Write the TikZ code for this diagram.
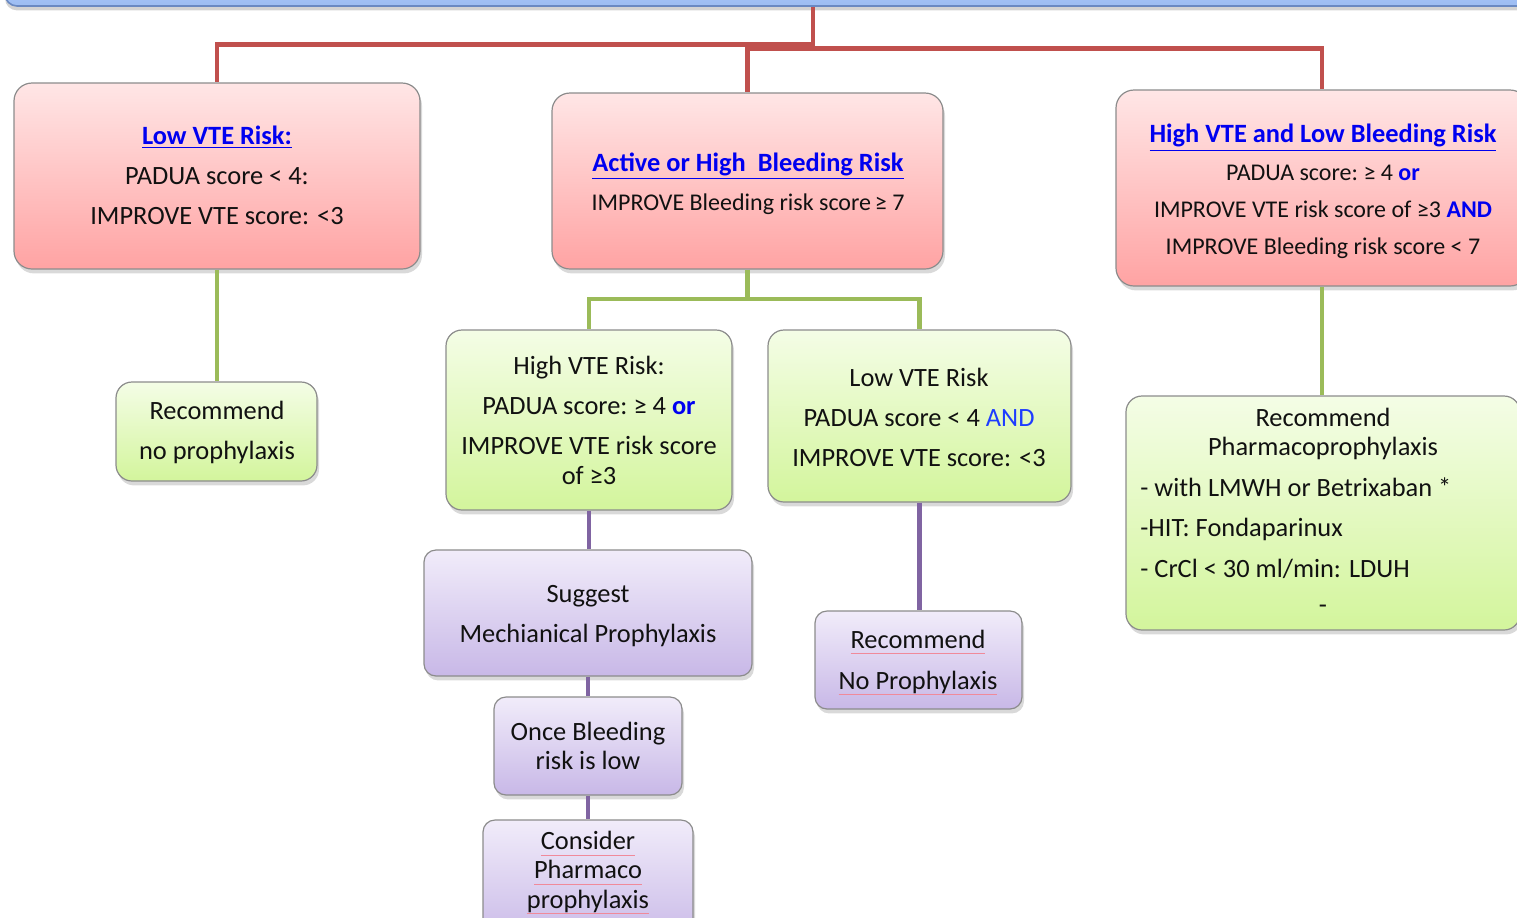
\documentclass[tikz,border=0pt]{standalone}
\usepackage{fontspec}
\setmainfont{Carlito}
\usetikzlibrary{shadows,fit}
\definecolor{redln}{HTML}{C0504D}
\definecolor{greenln}{HTML}{9BBB59}
\definecolor{purpleln}{HTML}{8064A2}
\definecolor{redtop}{HTML}{FFE6E6}
\definecolor{redbot}{HTML}{FFA3A3}
\definecolor{greentop}{HTML}{F4FDE6}
\definecolor{greenbot}{HTML}{D3F59C}
\definecolor{purtop}{HTML}{F1ECFA}
\definecolor{purbot}{HTML}{C8B8E7}
\definecolor{bluetop}{HTML}{B3CDF8}
\definecolor{bluebot}{HTML}{9DBDF3}
\definecolor{bluebd}{HTML}{6A89C2}
\definecolor{tblue}{HTML}{0000F0}
\definecolor{lblue}{HTML}{1E3CFF}
\definecolor{txtc}{HTML}{111111}
\definecolor{splc}{HTML}{F08A9A}
\newcommand\spl[1]{\setbox0\hbox{#1}\rlap{\textcolor{splc}{\rule[-0.45ex]{\wd0}{0.4pt}}}\box0}
\newcommand\ttl[1]{{\color{tblue}\bfseries\underline{#1}}}
\newcommand\gsym{\kern-0.07em≥}
\newcommand\sm{\fontsize{12}{14.6}\selectfont}
\tikzset{
  boxbase/.style={draw=black!45, line width=0.6pt, inner sep=0pt,
    drop shadow={shadow xshift=1pt, shadow yshift=-2.2pt, opacity=0.3}},
  redbox/.style={boxbase, rounded corners=9pt, top color=redtop, bottom color=redbot},
  greenbox/.style={boxbase, rounded corners=8pt, top color=greentop, bottom color=greenbot},
  purbox/.style={boxbase, rounded corners=6pt, top color=purtop, bottom color=purbot},
  bluebar/.style={draw=bluebd, line width=0.8pt, inner sep=0pt, rounded corners=6pt,
    top color=bluetop, bottom color=bluebot,
    drop shadow={shadow xshift=0pt, shadow yshift=-2.2pt, opacity=0.35}},
  txt/.style={font=\fontsize{13.2}{14.6}\selectfont, align=center, inner sep=0pt, text=txtc},
  txtl/.style={txt, align=left, anchor=west},
  redline/.style={draw=redln, line width=2.4pt},
  greenline/.style={draw=greenln, line width=2.2pt},
  purline/.style={draw=purpleln, line width=2.2pt},
}
\begin{document}
\begin{tikzpicture}[x=0.5pt, y=-0.5pt]
\useasboundingbox (0,0) rectangle (1517,917);
\clip (0,0) rectangle (1517,917);

% top bar
\node[bluebar, fit={(5,-40) (1560,6)}] (bar) {};

% red boxes
\node[redbox, fit={(14,83) (420,269)}] (lowvte) {};
\node[redbox, fit={(552,93) (943,269)}] (bleed) {};
\node[redbox, fit={(1116,90) (1528,286)}] (highvte) {};

% green boxes
\node[greenbox, fit={(116,382) (317,481)}] (nopro) {};
\node[greenbox, fit={(446,330) (732,510)}] (hvte) {};
\node[greenbox, fit={(768,330) (1071,502)}] (lvte) {};
\node[greenbox, fit={(1126,396) (1520,630)}] (pharm) {};

% purple boxes
\node[purbox, fit={(424,550) (752,676)}] (sugg) {};
\node[purbox, fit={(815,611) (1022,709)}] (recno) {};
\node[purbox, fit={(494,697) (682,795)}] (once) {};
\node[purbox, fit={(483,820) (693,945)}] (cons) {};

% red connectors
\coordinate (hubL) at (813,44.5);
\coordinate (hubR) at (813,48.5);
\draw[redline] (hubR |- bar.south) -- ([yshift=-1.2pt]hubR);
\draw[redline] (hubL) -| (lowvte.north);
\draw[redline] (hubR) -| (bleed.north);
\draw[redline] (hubR) -| (highvte.north);

% green connectors
\draw[greenline] (lowvte.south) -- (lowvte.south |- nopro.north);
\coordinate (gj) at (747.5,299);
\draw[greenline] (bleed.south) -- (gj);
\draw[greenline] (gj) -| (hvte.north);
\draw[greenline] (gj) -| (lvte.north);
\draw[greenline] (highvte.south) -- (highvte.south |- pharm.north);

% purple connectors
\draw[purline] (hvte.south) -- (hvte.south |- sugg.north);
\draw[purline] (lvte.south) -- (lvte.south |- recno.north);
\draw[purline] (sugg.south) -- (sugg.south |- once.north);
\draw[purline] (once.south) -- (once.south |- cons.north);

% texts
\node[txt] (t-lowvte) at (217,175.5) {\ttl{Low VTE Risk:}\\[5.4pt]PADUA score < 4:\\[5.4pt]IMPROVE VTE score: <3};
\node[txt] (t-bleed) at (748,183.5) {\ttl{Active or High\ \ Bleeding Risk}\\[5pt]{\sm IMPROVE Bleeding risk score \gsym\ 7}};
\node[txt] (t-highvte) at (1323,191.5) {\ttl{High VTE and Low Bleeding Risk}\\[4pt]{\sm PADUA score: \gsym\ 4 {\color{tblue}\bfseries or}}\\[4pt]{\sm IMPROVE VTE risk score of ≥3 {\color{tblue}\bfseries AND}}\\[4pt]{\sm IMPROVE Bleeding risk score < 7}};

\node[txt] (t-nopro) at (217,432.5) {Recommend\\[5.8pt]no prophylaxis};
\node[txt] (t-hvte) at (589,420.5) {High VTE Risk:\\[5.4pt]PADUA score: \gsym\ 4 {\color{tblue}\bfseries or}\\[5.4pt]IMPROVE VTE risk score\\of ≥3};
\node[txt] (t-lvte) at (919,417) {Low VTE Risk\\[5.4pt]PADUA score < 4 {\color{lblue}AND}\\[5.4pt]IMPROVE VTE score: <3};
\node[txt] (t-pharm) at (1323,434) {Recommend\\Pharmacoprophylaxis};
\node[txtl] (t-list) at (1140,528) {- with LMWH or Betrixaban *\\[5.6pt]-HIT: Fondaparinux\\[5.6pt]- CrCl < 30 ml/min: LDUH};
\node[txt] (t-dash) at (1323,609) {-};

\node[txt] (t-sugg) at (588,616) {Suggest\\[5.4pt]Mechianical Prophylaxis};
\node[txt] (t-recno) at (918,662.5) {\spl{Recommend}\\[5.8pt]\spl{No Prophylaxis}};
\node[txt] (t-once) at (588,746) {Once Bleeding\\risk is low};
\node[txt] (t-cons) at (588,872.5) {\spl{Consider}\\\spl{Pharmaco}\\\spl{prophylaxis}};
\end{tikzpicture}
\end{document}
